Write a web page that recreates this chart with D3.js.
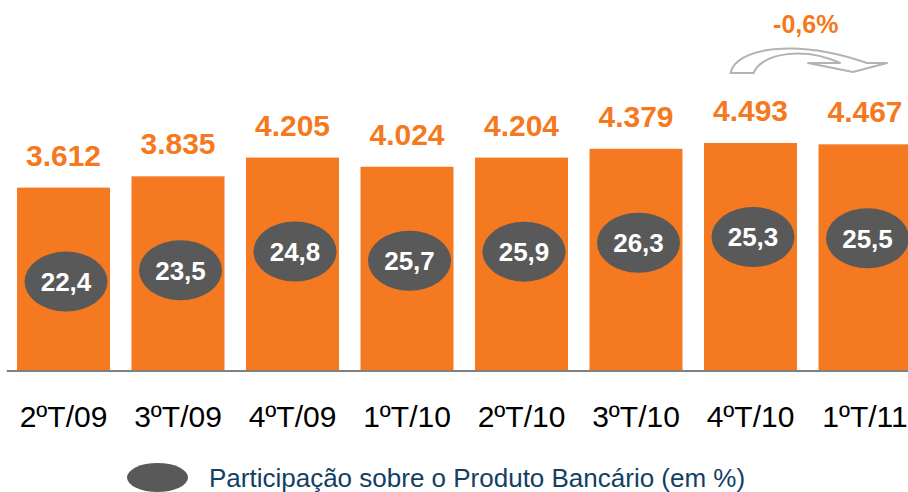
<!DOCTYPE html>
<html>
<head>
<meta charset="utf-8">
<script src="https://cdn.jsdelivr.net/npm/d3@7"></script>
<style>
  body { margin: 0; background: #fff; }
  svg { display: block; font-family: "Liberation Sans", Arial, sans-serif; }
</style>
</head>
<body>
<script>
// data
var quarters = ["2ºT/09", "3ºT/09", "4ºT/09", "1ºT/10", "2ºT/10", "3ºT/10", "4ºT/10", "1ºT/11"];
var values = [3612, 3835, 4205, 4024, 4204, 4379, 4493, 4467];
var share = [22.4, 23.5, 24.8, 25.7, 25.9, 26.3, 25.3, 25.5];
var changeLabel = "-0,6%";
var legendLabel = "Participação sobre o Produto Bancário (em %)";

var width = 908, height = 492, baseline = 370.5;
var orange = "#f47920", grey = "#595959";

var locale = d3.formatLocale({decimal: ",", thousands: ".", grouping: [3], currency: ["", ""]});
var fmtValue = locale.format(",d"),
    fmtShare = locale.format(".1f");

var svg = d3.select("body").append("svg")
    .attr("width", width)
    .attr("height", height);

// scales
var x = d3.scaleBand()
    .domain(quarters)
    .range([6.25, 922.25])
    .paddingInner(0.188)
    .paddingOuter(0.094);

var y = d3.scaleLinear()
    .domain([0, 4493])
    .range([baseline, 143]);

var rows = quarters.map(function(q, i) {
  return {q: q, v: values[i], s: share[i]};
});

// bars
svg.selectAll("rect.bar")
    .data(rows)
  .enter().append("rect")
    .attr("class", "bar")
    .attr("x", function(d) { return x(d.q); })
    .attr("y", function(d) { return y(d.v); })
    .attr("width", x.bandwidth())
    .attr("height", function(d) { return baseline - y(d.v); })
    .attr("fill", orange);

// value labels
svg.selectAll("text.val")
    .data(rows)
  .enter().append("text")
    .attr("class", "val")
    .attr("x", function(d) { return x(d.q) + x.bandwidth() / 2; })
    .attr("y", function(d) { return y(d.v) - 22; })
    .attr("text-anchor", "middle")
    .attr("font-size", 30)
    .attr("font-weight", "bold")
    .attr("fill", orange)
    .text(function(d) { return fmtValue(d.v); });

// share bubbles
var bub = svg.selectAll("g.bub")
    .data(rows)
  .enter().append("g")
    .attr("class", "bub")
    .attr("transform", function(d) {
      return "translate(" + (x(d.q) + x.bandwidth() / 2 + 2.5) + "," + (y(d.v) + 94) + ")";
    });

bub.append("ellipse")
    .attr("rx", 41.5)
    .attr("ry", 30)
    .attr("fill", grey);

bub.append("text")
    .attr("text-anchor", "middle")
    .attr("dy", "0.36em")
    .attr("font-size", 26)
    .attr("font-weight", "bold")
    .attr("fill", "#fff")
    .text(function(d) { return fmtShare(d.s); });

// x axis
var axis = svg.append("g")
    .attr("transform", "translate(0," + baseline + ")")
    .call(d3.axisBottom(x).tickSize(0).tickSizeOuter(0).tickPadding(35));

axis.select(".domain")
    .attr("stroke", "#808080")
    .attr("stroke-width", 2);

axis.selectAll(".tick text")
    .attr("font-family", "'Liberation Sans', Arial, sans-serif")
    .attr("font-size", 30)
    .attr("fill", "#000");

// change annotation between last two bars
var c7 = x(quarters[6]) + x.bandwidth() / 2,
    c8 = x(quarters[7]) + x.bandwidth() / 2;

var p = d3.path();
p.moveTo(c7 - 20, 73);
p.bezierCurveTo(c7 - 15, 48, c7 + 45, 38, c8 + 2, 63);
p.lineTo(c8 + 22, 63);
p.lineTo(c8 - 12, 72);
p.lineTo(c8 - 57, 63);
p.lineTo(c8 - 25, 63);
p.bezierCurveTo(c7 + 55, 47, c7 + 12, 52, c7 + 3, 73);
p.closePath();

svg.append("path")
    .attr("d", p.toString())
    .attr("fill", "#fff")
    .attr("stroke", "#b3b3b3")
    .attr("stroke-width", 2)
    .attr("stroke-linejoin", "round");

svg.append("text")
    .attr("x", (c7 + c8) / 2 - 2)
    .attr("y", 33)
    .attr("text-anchor", "middle")
    .attr("font-size", 25)
    .attr("font-weight", "bold")
    .attr("fill", orange)
    .text(changeLabel);

// legend
svg.append("ellipse")
    .attr("cx", 157.5)
    .attr("cy", 477.5)
    .attr("rx", 30.5)
    .attr("ry", 14.5)
    .attr("fill", grey);

svg.append("text")
    .attr("x", 209)
    .attr("y", 487)
    .attr("font-size", 26)
    .attr("fill", "#123f63")
    .text(legendLabel);
</script>
</body>
</html>
